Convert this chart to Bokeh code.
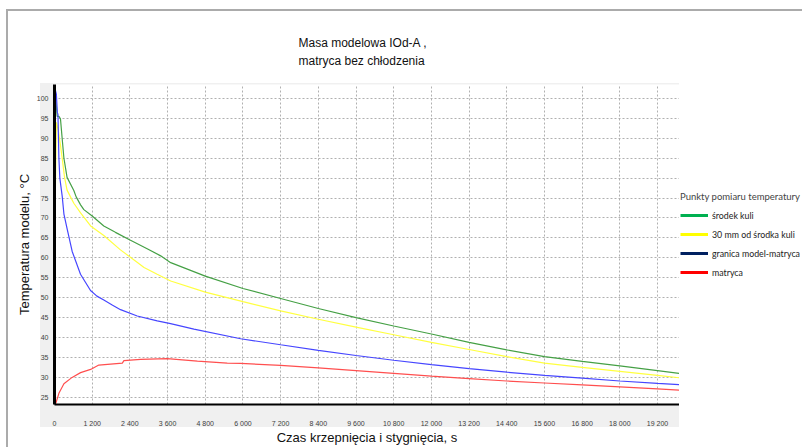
from bokeh.plotting import figure
from bokeh.layouts import row
from bokeh.models import FixedTicker, Legend, LegendItem, Range1d
from bokeh.embed import file_html
from bokeh.resources import INLINE

# ---------------- data ----------------
title_lines = ["Masa modelowa IOd-A ,", "matryca bez chłodzenia"]
x_label = "Czas krzepnięcia i stygnięcia, s"
y_label = "Temperatura modelu, °C"
legend_title = "Punkty pomiaru temperatury"
series_names = ["środek kuli", "30 mm od środka kuli", "granica model-matryca", "matryca"]

x_ticks = [0, 1200, 2400, 3600, 4800, 6000, 7200, 8400, 9600, 10800, 12000,
           13200, 14400, 15600, 16800, 18000, 19200]
x_tick_labels = ["0", "1 200", "2 400", "3 600", "4 800", "6 000", "7 200", "8 400",
                 "9 600", "10 800", "12 000", "13 200", "14 400", "15 600", "16 800",
                 "18 000", "19 200"]
y_ticks = [25, 30, 35, 40, 45, 50, 55, 60, 65, 70, 75, 80, 85, 90, 95, 100]
y_tick_labels = ["25", "30", "35", "40", "45", "50", "55", "60", "65", "70", "75",
                 "80", "85", "90", "95", "100"]

time_green = [0, 20, 40, 85, 140, 190, 245, 300, 400, 615, 690, 830, 935, 1200, 1570,
              1940, 2420, 2950, 3380, 3700, 4800, 6000, 7200, 8400, 9600, 10800,
              12000, 13200, 14400, 15600, 16800, 18000, 19200, 19900]
temp_green = [64, 103.2, 100, 95.5, 95.5, 94.9, 89.9, 85, 80.2, 76.9, 75.3, 73.3, 72.1,
              70.5, 68.0, 66.4, 64.4, 62.3, 60.5, 58.8, 55.4, 52.3, 49.8, 47.3, 45.0,
              42.9, 40.9, 38.8, 36.9, 35.2, 34.0, 32.9, 31.7, 31.0]

time_yellow = [0, 60, 120, 190, 245, 320, 400, 510, 615, 830, 1150, 1570, 2100, 2630,
               2850, 3270, 3700, 4800, 6000, 7200, 8400, 9600, 10800, 12000, 13200,
               14400, 15600, 16800, 18000, 19200, 19900]
temp_yellow = [62, 94, 92, 88.3, 85, 80.2, 77, 75.3, 73.7, 71.3, 68, 65.6, 62, 58.9,
               57.6, 55.9, 54.2, 51.4, 49.0, 46.7, 44.6, 42.6, 40.7, 38.8, 37.0, 35.2,
               33.6, 32.5, 31.5, 30.5, 29.9]

time_blue = [0, 30, 60, 90, 110, 140, 170, 245, 300, 404, 563, 828, 1147, 1350, 1571,
             1850, 2103, 2634, 3271, 3696, 4439, 5926, 7200, 8400, 9600, 10800, 12000,
             13200, 14400, 15600, 16800, 18000, 19200, 19900]
temp_blue = [23, 102, 101, 96.5, 96, 85, 80, 75.5, 71, 67.2, 61.6, 55.9, 51.8, 50.4,
             49.4, 48.1, 47.0, 45.4, 44.2, 43.5, 42.1, 39.7, 38.2, 36.8, 35.5, 34.3,
             33.2, 32.2, 31.3, 30.5, 29.8, 29.1, 28.5, 28.2]

time_red = [0, 30, 140, 300, 560, 830, 1150, 1410, 2160, 2210, 2740, 3590, 4550, 5500,
            5930, 7200, 8400, 9600, 10800, 12000, 13200, 14400, 15600, 16800, 18000,
            19200, 19900]
temp_red = [23, 23.2, 26, 28.4, 30, 31.2, 32, 33.1, 33.6, 34.2, 34.5, 34.7, 34.1, 33.6,
            33.5, 33.0, 32.4, 31.7, 31.0, 30.3, 29.7, 29.1, 28.6, 28.1, 27.6, 27.1, 26.8]

series_time = [time_green, time_yellow, time_blue, time_red]
series_temp = [temp_green, temp_yellow, temp_blue, temp_red]

line_colors = ["#45a045", "#ffff40", "#4646ff", "#ff4f4f"]
legend_colors = ["#00b050", "#ffff00", "#002060", "#ff0000"]

# ---------------- main chart ----------------
H = 447
main_bg = ("linear-gradient(#ababab,#ababab) 6px 9px / 2px 440px no-repeat, "
           "linear-gradient(#ababab,#ababab) 6px 9px / 700px 2px no-repeat, "
           "linear-gradient(#f0f0f0,#f0f0f0) 40px 83px / 639px 344px no-repeat, "
           "#ffffff")
p = figure(width=679, height=H, output_backend="svg", toolbar_location=None,
           x_range=Range1d(0, 19900), y_range=Range1d(23.2, 103.5),
           min_border_left=54, min_border_right=0, min_border_top=84,
           min_border_bottom=32, styles={"background": main_bg})
p.background_fill_color = "white"
p.border_fill_alpha = 0
p.outline_line_color = None

# title (two lines, left-aligned above the plot area)
p.title.text = title_lines[0] + "\n" + title_lines[1]
p.title.align = "left"
p.title.offset = 244
p.title.standoff = 32
p.title.text_line_height = 1.33
p.title.text_font = "Liberation Sans"
p.title.text_font_size = "12px"
p.title.text_font_style = "normal"
p.title.text_color = "#111111"

# axes
p.xaxis.ticker = FixedTicker(ticks=x_ticks)
p.yaxis.ticker = FixedTicker(ticks=y_ticks)
p.xaxis.major_label_overrides = {t: s for t, s in zip(x_ticks, x_tick_labels)}
p.yaxis.major_label_overrides = {t: s for t, s in zip(y_ticks, y_tick_labels)}
for ax in (p.xaxis[0], p.yaxis[0]):
    ax.major_tick_line_color = None
    ax.minor_tick_line_color = None
    ax.major_label_text_font = "Liberation Sans"
    ax.major_label_text_font_size = "7px"
    ax.major_label_text_color = "#404040"
    ax.axis_line_color = "black"
    ax.axis_label_text_font = "Liberation Sans"
    ax.axis_label_text_font_size = "13px"
    ax.axis_label_text_font_style = "normal"
    ax.axis_label_text_color = "#111111"
p.yaxis.axis_line_width = 3
p.xaxis.axis_line_width = 2
p.xaxis.major_label_standoff = 9
p.yaxis.major_label_standoff = 0
p.xaxis.axis_label = x_label
p.yaxis.axis_label = y_label
p.xaxis.axis_label_standoff = 0
p.yaxis.axis_label_standoff = 2

for g in (p.xgrid[0], p.ygrid[0]):
    g.grid_line_color = "#b0b0b0"
    g.grid_line_dash = "2 2"
    g.grid_line_width = 1

# data lines
for t, v, c in zip(series_time, series_temp, line_colors):
    p.line(t, v, line_color=c, line_width=1.2)

# ---------------- legend panel (right of the chart) ----------------
leg_bg = ("linear-gradient(#ababab,#ababab) 0px 9px / 123px 2px no-repeat, #ffffff")
q = figure(width=123, height=H, output_backend="svg", toolbar_location=None,
           x_axis_type=None, y_axis_type=None, min_border=0,
           x_range=Range1d(-3, -2), y_range=Range1d(-3, -2),
           styles={"background": leg_bg})
q.background_fill_alpha = 0
q.border_fill_alpha = 0
q.outline_line_color = None
q.title.visible = False

# legend swatches: the same series, drawn outside this panel's visible range
swatches = [q.line(t, v, line_color=c, line_width=3)
            for t, v, c in zip(series_time, series_temp, legend_colors)]
legend = Legend(items=[LegendItem(label=n, renderers=[r]) for n, r in zip(series_names, swatches)],
                location=(1, 124), title=legend_title,
                title_text_font="Lato", title_text_font_size="9.5px",
                title_text_font_style="normal", title_standoff=5,
                label_text_font="Lato", label_text_font_size="8.8px",
                label_text_color="#222222",
                glyph_width=28, glyph_height=16, label_height=16, label_standoff=4,
                spacing=3, padding=0, margin=0,
                border_line_color=None, background_fill_alpha=0)
q.add_layout(legend)

layout = row(p, q, spacing=0)
open("out.html", "w").write(file_html(layout, INLINE))
